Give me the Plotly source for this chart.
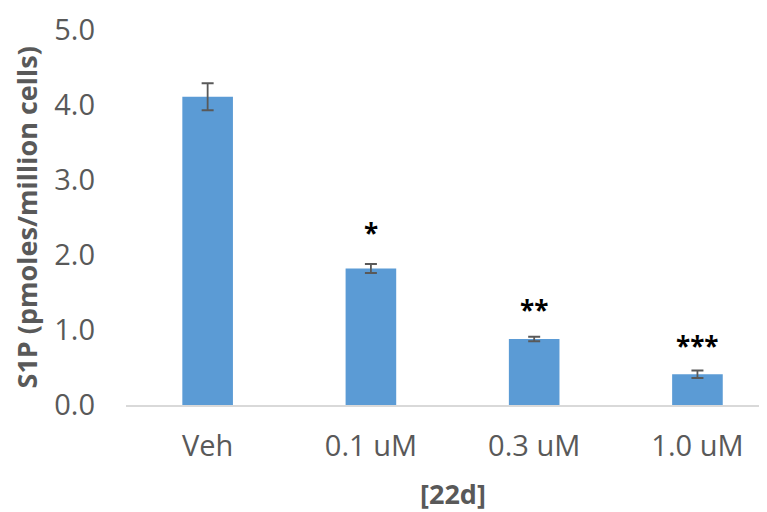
import plotly.graph_objects as go

categories = ["Veh", "0.1 uM", "0.3 uM", "1.0 uM"]
values = [4.11, 1.82, 0.88, 0.41]
errors = [0.18, 0.06, 0.03, 0.05]
sig_labels = ["", "*", "**", "***"]
sig_y = [None, 2.29, 1.27, 0.79]
y_ticks = [0, 1, 2, 3, 4, 5]
y_tick_text = ["0.0", "1.0", "2.0", "3.0", "4.0", "5.0"]

FONT = "Open Sans"
GRAY = "#595959"

fig = go.Figure()
fig.add_trace(go.Bar(
    x=categories, y=values, width=0.31,
    marker=dict(color="#5B9BD5", line=dict(width=0)),
    error_y=dict(type="data", array=errors, visible=True,
                 color=GRAY, thickness=1.8, width=6),
))

for c, s, yv in zip(categories, sig_labels, sig_y):
    if s:
        fig.add_annotation(x=c, y=yv, text="<b>" + s + "</b>", showarrow=False,
                           font=dict(family=FONT, size=26, color="black"),
                           xanchor="center", yanchor="middle")

# page body has an 8px margin, so the figure is offset by (8, 8)
fig.add_annotation(xref="paper", yref="paper", x=-0.1545, y=0.5,
                   text="<b>S1P (pmoles/million cells)</b>", textangle=-90,
                   showarrow=False, xanchor="center", yanchor="middle",
                   font=dict(family=FONT, size=27, color=GRAY))
fig.add_annotation(xref="paper", yref="paper", x=0.51, y=-0.235,
                   text="<b>[22d]</b>", showarrow=False,
                   xanchor="center", yanchor="middle",
                   font=dict(family=FONT, size=27, color=GRAY))

fig.update_layout(
    width=759, height=504,
    margin=dict(l=118, r=0, t=22, b=107),
    paper_bgcolor="white", plot_bgcolor="white",
    showlegend=False,
    font=dict(family=FONT, color=GRAY),
    xaxis=dict(range=[-0.5, 3.426], showgrid=False, zeroline=False,
               showline=True, linecolor="#D9D9D9", linewidth=1.5,
               ticks="", tickfont=dict(size=29, color=GRAY),
               ticklabelstandoff=14),
    yaxis=dict(range=[0, 5], tickvals=y_ticks, ticktext=y_tick_text,
               showgrid=False, zeroline=False, showline=False,
               ticks="", tickfont=dict(size=29, color=GRAY),
               ticklabelstandoff=30),
)

fig.write_html("out.html")
